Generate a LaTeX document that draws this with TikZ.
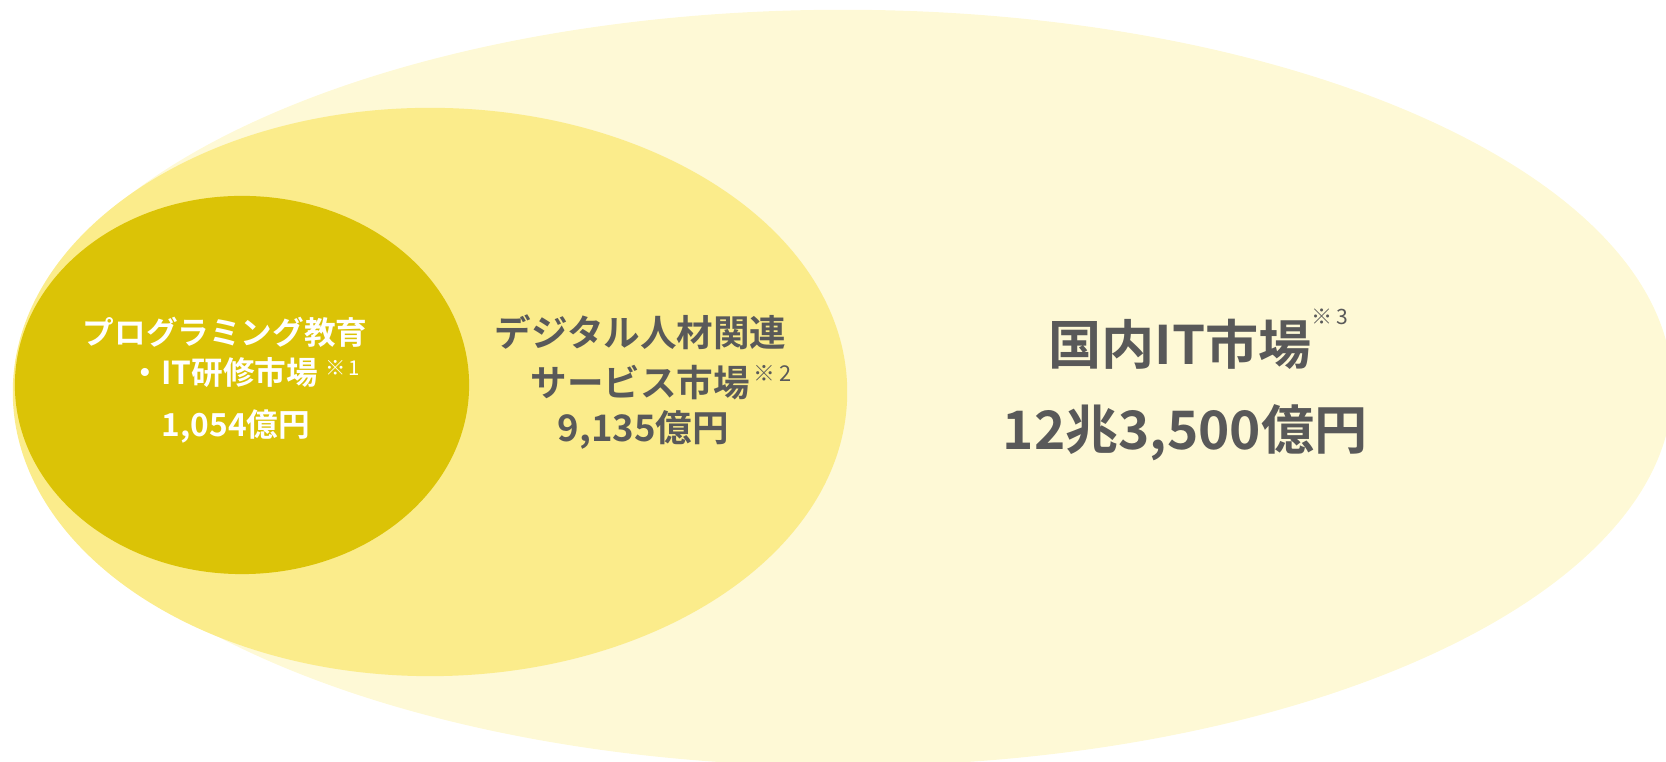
\documentclass[tikz,border=0pt]{standalone}
\usepackage{fontspec}
\setmainfont{Noto Sans CJK JP}[BoldFont={Noto Sans CJK JP Bold}]
\usetikzlibrary{shapes.geometric}
\definecolor{itcream}{HTML}{FEF9D6}
\definecolor{dxyellow}{HTML}{FBEC8B}
\definecolor{edugold}{HTML}{DBC306}
\definecolor{txtgray}{HTML}{595959}

\begin{document}
\begin{tikzpicture}
  [x=0.01cm,y=-0.01cm,every node/.style={inner sep=0pt,anchor=base west},
   market/.style={ellipse,anchor=center},
   edutxt/.style={text=white,font=\bfseries\fontsize{9.0}{10}\selectfont},
   dxtxt/.style={text=txtgray,font=\bfseries\fontsize{10.4}{12}\selectfont},
   ittxt/.style={text=txtgray,font=\bfseries\fontsize{15.1}{18}\selectfont}]
  \useasboundingbox (0,0) rectangle (1666,762);
  \clip (0,0) rectangle (1666,762);

  \node[market,fill=itcream,minimum width=16.58cm,minimum height=7.56cm] (itmkt) at (843,388) {};
  \node[market,fill=dxyellow,minimum width=8.34cm,minimum height=5.68cm] (dxmkt) at (430,392) {};
  \node[market,fill=edugold,minimum width=4.54cm,minimum height=3.78cm] (edumkt) at (242,385) {};

  \node[edutxt] (edu1) at (82,345) {プログラミング教育};
  \node[edutxt] (edu2) at (129,385) {・IT研修市場\hspace{2pt}\raisebox{2.8pt}{\mdseries\fontsize{5.8}{7}\selectfont ※\,1}};
  \node[edutxt] (edu3) at (161,437) {1,054億円};

  \node[dxtxt] (dx1) at (494,347) {デジタル人材関連};
  \node[dxtxt] (dx2) at (530,397) {サービス市場\hspace{1pt}\raisebox{4.3pt}{\mdseries\fontsize{6.2}{7}\selectfont ※\,2}};
  \node[dxtxt] (dx3) at (557,442) {9,135億円};

  \node[ittxt] (it1) at (1048,365) {国内IT市場\raisebox{11.4pt}{\mdseries\fontsize{6.0}{7}\selectfont ※\,3}};
  \node[ittxt] (it2) at (1002,450) {12兆3,500億円};

\end{tikzpicture}
\end{document}
